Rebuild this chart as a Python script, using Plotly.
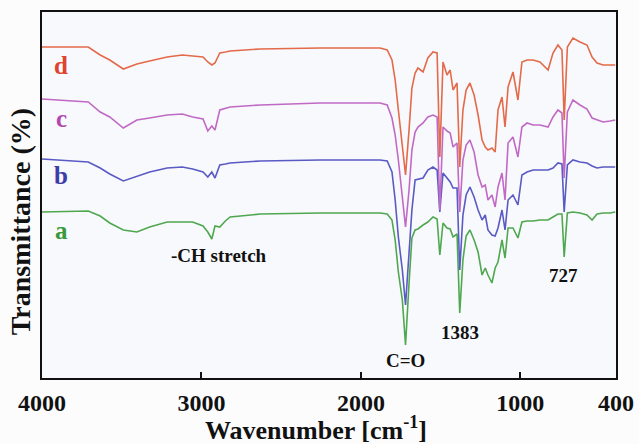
import plotly.graph_objects as go

# Wavenumber grid (cm^-1)
wavenumber = [4000, 3710, 3635, 3575, 3490, 3405, 3325, 3215, 3120, 3055,
              2990, 2960, 2935, 2915, 2885, 2850, 2820, 2630, 2255, 1880,
              1835, 1805, 1785, 1765, 1740, 1720, 1698, 1680, 1660, 1642,
              1610, 1580, 1548, 1522, 1505, 1485, 1460, 1440, 1422, 1397,
              1380, 1360, 1340, 1316, 1290, 1265, 1240, 1220, 1203, 1178,
              1158, 1140, 1115, 1096, 1077, 1046, 1015, 990, 958, 920,
              877, 826, 795, 764, 739, 725, 705, 670, 626, 582,
              550, 519, 481, 437, 405]

# Transmittance (a.u., stacked curves)
series_a = [166, 167, 162, 155, 148, 146, 151, 156, 156, 156,
            152, 146, 139, 152, 151, 157, 161, 164, 165, 165,
            164, 158, 138, 106, 78, 33, 95, 140, 148, 149,
            153, 156, 161, 159, 123, 155, 150, 149, 141, 144,
            65, 118, 142, 148, 138, 126, 103, 110, 103, 95,
            110, 116, 138, 120, 150, 150, 140, 156, 157, 157,
            158, 158, 161, 164, 164, 121, 165, 166, 165, 163,
            158, 164, 165, 165, 166]

series_b = [219, 216, 210, 204, 197, 202, 206, 210, 211, 209,
            206, 201, 206, 200, 213, 214, 215, 217, 218, 218,
            217, 206, 178, 141, 108, 73, 123, 168, 198, 199,
            200, 208, 211, 208, 166, 205, 200, 196, 190, 190,
            108, 163, 183, 191, 181, 168, 158, 163, 148, 143,
            142, 150, 168, 148, 178, 183, 173, 203, 206, 208,
            208, 208, 210, 215, 214, 166, 213, 218, 216, 215,
            212, 210, 211, 211, 211]

series_c = [279, 276, 266, 261, 250, 258, 260, 263, 264, 261,
            259, 247, 252, 248, 268, 270, 271, 273, 275, 275,
            273, 260, 243, 218, 183, 151, 188, 228, 246, 251,
            255, 261, 263, 261, 168, 251, 247, 245, 231, 235,
            166, 218, 233, 238, 226, 203, 191, 193, 178, 183,
            171, 191, 205, 178, 235, 241, 221, 251, 255, 253,
            253, 251, 261, 268, 265, 200, 266, 278, 273, 269,
            260, 258, 256, 257, 258]

series_d = [331, 331, 323, 318, 309, 314, 317, 321, 323, 322,
            321, 316, 313, 315, 325, 326, 327, 329, 330, 330,
            328, 318, 298, 268, 233, 203, 248, 290, 305, 310,
            306, 320, 326, 325, 221, 316, 303, 308, 288, 295,
            211, 268, 288, 295, 283, 263, 238, 231, 228, 230,
            226, 268, 281, 251, 291, 306, 278, 316, 318, 318,
            316, 308, 325, 333, 328, 258, 331, 340, 336, 333,
            321, 315, 313, 313, 313]

series_names = ["a", "b", "c", "d"]
line_colors = ["#4fa84f", "#5a5ac4", "#c06ac6", "#e36a4a"]
label_colors = ["#3a9a3a", "#3d3da8", "#b048b0", "#e0432e"]
label_values = [148, 203, 260, 313]
tick_vals = [4000, 3000, 2000, 1000, 400]
tick_text = ["4000", "3000", "2000", "1000", "400"]

band_labels = ["-CH stretch", "C=O", "1383", "727"]
band_x = [2890, 1720, 1380, 727]
band_y = [123, 18, 46, 103]

x_title = "Wavenumber [cm<sup>-1</sup>]"
y_title = "Transmittance (%)"

fig = go.Figure()
for name, ys, col in zip(series_names, [series_a, series_b, series_c, series_d], line_colors):
    fig.add_trace(go.Scatter(x=wavenumber, y=ys, mode="lines", name=name,
                             line=dict(color=col, width=1.6), showlegend=False))

serif = "Liberation Serif, Times New Roman, serif"

for name, yv, col in zip(series_names, label_values, label_colors):
    fig.add_annotation(x=3880, y=yv, text=f"<b>{name}</b>", showarrow=False,
                       font=dict(family=serif, size=25, color=col))

for txt, bx, by in zip(band_labels, band_x, band_y):
    fig.add_annotation(x=bx, y=by, text=f"<b>{txt}</b>", showarrow=False,
                       font=dict(family=serif, size=19, color="#111111"))

# axis titles (placed to match the reference position)
fig.add_annotation(xref="paper", yref="paper", x=0.477, y=-0.137,
                   xanchor="center", yanchor="middle", showarrow=False,
                   text=f"<b>{x_title}</b>",
                   font=dict(family=serif, size=26, color="#111111"))
fig.add_annotation(xref="paper", yref="paper", x=-0.038, y=0.426,
                   xanchor="center", yanchor="middle", showarrow=False,
                   textangle=-90, text=f"<b>{y_title}</b>",
                   font=dict(family=serif, size=28, color="#111111"))

fig.update_layout(
    width=639, height=444,
    margin=dict(l=42, r=23, t=12, b=66),
    paper_bgcolor="#fcfcfd",
    plot_bgcolor="#f8f9fc",
    font=dict(family=serif, color="#111111"),
    xaxis=dict(range=[4000, 400], tickvals=tick_vals,
               ticktext=[f"<b>{t}</b>" for t in tick_text],
               ticks="inside", ticklen=6, tickwidth=2, tickcolor="#111111",
               showline=True, linecolor="#111111", linewidth=2, mirror=True,
               showgrid=False, zeroline=False, automargin=False,
               tickfont=dict(family=serif, size=24, color="#111111"),
               ticklabelstandoff=2),
    yaxis=dict(range=[0, 366], showticklabels=False, ticks="",
               showline=True, linecolor="#111111", linewidth=2, mirror=True,
               showgrid=False, zeroline=False, automargin=False),
)

fig.write_html("out.html",
               config={"displayModeBar": False},
               post_script="document.body.style.margin='0';document.body.style.overflow='hidden';")
